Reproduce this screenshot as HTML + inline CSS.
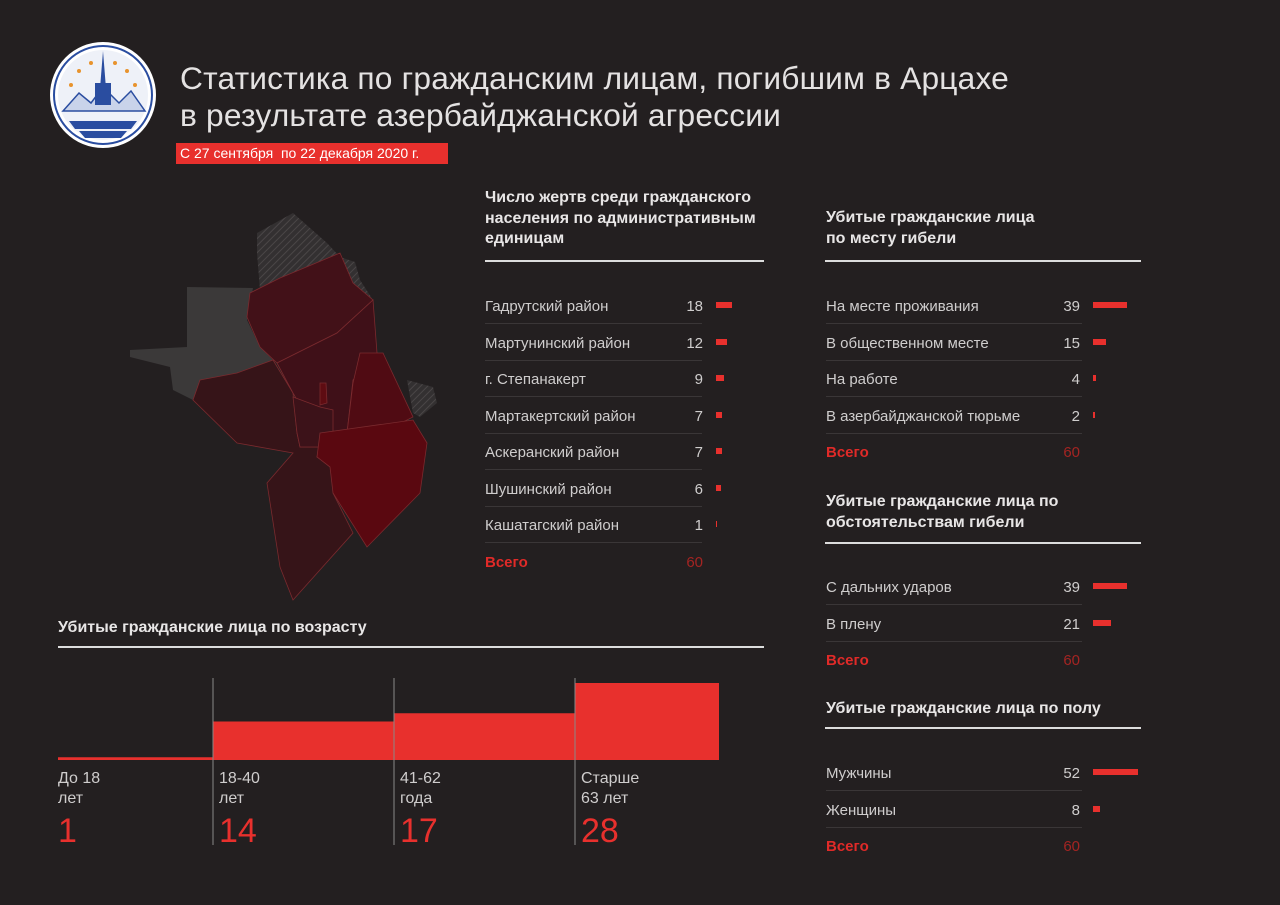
<!DOCTYPE html>
<html><head><meta charset="utf-8"><style>
html,body{margin:0;padding:0;background:#231f20;}
body{width:1280px;height:905px;position:relative;overflow:hidden;font-family:"Liberation Sans",sans-serif;color:#d4d2d2;}
.a{position:absolute;white-space:nowrap;}
.title{left:180px;font-size:31.7px;color:#e4e2e2;letter-spacing:0.2px;}
.hd{font-size:16px;font-weight:bold;color:#e8e6e6;line-height:20.5px;}
.hl{position:absolute;height:2px;background:#dcdcdc;}
.lbl{font-size:15px;color:#cfcdcd;}
.num{font-size:15px;color:#cfcdcd;text-align:right;width:40px;}
.sep{position:absolute;height:1px;background:#3a3637;}
.bar{position:absolute;height:6px;background:#e8302d;}
.tot{font-size:15px;font-weight:bold;color:#e02a28;}
.totn{font-size:15px;color:#a42422;text-align:right;width:40px;}
.agel{font-size:16px;color:#cfcdcd;line-height:20px;}
.agen{font-size:34px;color:#e8302d;}
</style></head><body>
<svg style="position:absolute;left:49px;top:41px" width="108" height="108" viewBox="0 0 108 108">
<circle cx="54" cy="54" r="53" fill="#fff"/>
<circle cx="54" cy="54" r="49" fill="none" stroke="#2a4da0" stroke-width="2"/>
<circle cx="54" cy="54" r="45" fill="#eef1f8"/>
<path d="M14 70 L30 52 L42 62 L54 46 L70 62 L82 50 L96 70 Z" fill="#c9d3ea" stroke="#2a4da0" stroke-width="1.5"/>
<path d="M54 10 L58 60 L50 60 Z" fill="#2a4da0"/>
<rect x="46" y="42" width="16" height="22" fill="#2a4da0"/>
<path d="M20 80 L88 80 L82 88 L26 88 Z M30 90 L78 90 L72 97 L36 97 Z" fill="#2a4da0"/>
<circle cx="30" cy="30" r="2" fill="#e8932d"/><circle cx="78" cy="30" r="2" fill="#e8932d"/><circle cx="22" cy="44" r="2" fill="#e8932d"/><circle cx="86" cy="44" r="2" fill="#e8932d"/><circle cx="42" cy="22" r="2" fill="#e8932d"/><circle cx="66" cy="22" r="2" fill="#e8932d"/>
</svg>
<div class="a title" style="top:60px">Статистика по гражданским лицам, погибшим в Арцахе</div>
<div class="a title" style="top:97px">в результате азербайджанской агрессии</div>
<div class="a" style="left:176px;top:143px;width:272px;height:21px;background:#e8302d;color:#fff;font-size:14px;line-height:21px;padding-left:4px;box-sizing:border-box">С 27 сентября&nbsp; по 22 декабря 2020 г.</div>

<svg style="position:absolute;left:0;top:0" width="460" height="620">
<defs><pattern id="hatch" width="5" height="5" patternUnits="userSpaceOnUse" patternTransform="rotate(45)"><rect width="5" height="5" fill="#333031"/><line x1="0" y1="0" x2="0" y2="5" stroke="#4a4647" stroke-width="2"/></pattern></defs>
<g stroke="#7a2a2e" stroke-width="0.8">
<polygon fill="#3b3939" stroke="none" points="130,350 187,347 187,287 253,288 247,320 260,347 273,360 237,373 200,380 193,400 173,390 170,367 130,357"/>
<polygon fill="url(#hatch)" stroke="none" points="257,233 293,213 327,243 340,257 280,280 260,290 257,253"/>
<polygon fill="url(#hatch)" stroke="none" points="340,257 355,262 360,280 373,300 353,283"/>
<polygon fill="url(#hatch)" stroke="none" points="407,380 433,387 437,403 420,417 413,413"/>
<polygon fill="#361418" points="200,380 237,373 273,360 293,393 297,433 300,447 320,447 317,457 333,467 333,493 353,533 293,600 280,567 267,483 293,453 237,443 193,400"/>
<polygon fill="#421118" points="250,293 280,278 340,253 353,283 373,300 337,333 277,363 260,347 247,317"/>
<polygon fill="#3f1018" points="277,363 337,333 373,300 377,353 353,380 347,433 333,433 320,407 297,400 293,393"/>
<polygon fill="#500b13" points="360,353 383,353 413,417 387,430 347,433 353,383"/>
<polygon fill="#3c1219" points="293,397 320,407 333,410 333,433 320,447 300,447 297,433"/>
<polygon fill="#5e0c12" points="320,383 326,383 327,403 320,405"/>
<polygon fill="#5a0810" points="320,433 413,420 427,443 420,493 367,547 333,493 330,467 317,457"/>
</g>
</svg>

<div class="a hd" style="left:485px;top:188px">Число жертв среди гражданского<br>населения по административным<br>единицам</div>
<div class="hl" style="left:485px;top:260px;width:279px"></div>
<div class="a hd" style="left:826px;top:208px">Убитые гражданские лица<br>по месту гибели</div>
<div class="hl" style="left:825px;top:260px;width:316px"></div>
<div class="a hd" style="left:826px;top:492px">Убитые гражданские лица по<br>обстоятельствам гибели</div>
<div class="hl" style="left:825px;top:542px;width:316px"></div>
<div class="a hd" style="left:826px;top:699px">Убитые гражданские лица по полу</div>
<div class="hl" style="left:825px;top:727px;width:316px"></div>
<div class="a hd" style="left:58px;top:618px">Убитые гражданские лица по возрасту</div>
<div class="hl" style="left:58px;top:646px;width:706px"></div>

<div id="tables"></div>
<svg id="age" style="position:absolute;left:0;top:660px" width="780" height="200"></svg>
<div id="agetext"></div>

<script>
const adminCats=["Гадрутский район","Мартунинский район","г. Степанакерт","Мартакертский район","Аскеранский район","Шушинский район","Кашатагский район"];
const adminVals=[18,12,9,7,7,6,1];
const placeCats=["На месте проживания","В общественном месте","На работе","В азербайджанской тюрьме"];
const placeVals=[39,15,4,2];
const circCats=["С дальних ударов","В плену"];
const circVals=[39,21];
const genderCats=["Мужчины","Женщины"];
const genderVals=[52,8];
const totalLabel="Всего";
const ageCats=[["До 18","лет"],["18-40","лет"],["41-62","года"],["Старше","63 лет"]];
const ageVals=[1,14,17,28];

const T=document.getElementById('tables');
function table(name,cats,vals,x,y0,sepW,numX,barX,scale,total){
  const step=36.5;
  cats.forEach((c,i)=>{
    const y=y0+i*step;
    const l=document.createElement('div');l.className='a lbl';l.style.left=x+'px';l.style.top=(y-7)+'px';l.textContent=c;
    
    
    T.appendChild(l);
    const n=document.createElement('div');n.className='a num';n.style.left=(numX-40)+'px';n.style.top=(y-7)+'px';n.textContent=vals[i];
    
    
    T.appendChild(n);
    const b=document.createElement('div');b.className='bar';b.style.left=barX+'px';b.style.top=(y-3)+'px';b.style.width=Math.max(1,vals[i]*scale)+'px';
    
    
    T.appendChild(b);
    const s=document.createElement('div');s.className='sep';s.style.left=x+'px';s.style.top=(y+18)+'px';s.style.width=sepW+'px';
    
    
    T.appendChild(s);
  });
  if(total){
    const y=y0+cats.length*step;
    const l=document.createElement('div');l.className='a tot';l.style.left=x+'px';l.style.top=(y-7)+'px';l.textContent=totalLabel;
    
    
    T.appendChild(l);
    const n=document.createElement('div');n.className='a totn';n.style.left=(numX-40)+'px';n.style.top=(y-7)+'px';n.textContent=vals.reduce((a,b)=>a+b,0);
    
    
    T.appendChild(n);
  }
}
table('admin',adminCats,adminVals,485,305,217,703,716,0.9,true);
table('place',placeCats,placeVals,826,305,256,1080,1093,0.87,true);
table('circumstance',circCats,circVals,826,586,256,1080,1093,0.87,true);
table('gender',genderCats,genderVals,826,772,256,1080,1093,0.87,true);

const svg=document.getElementById('age');
const NS='http://www.w3.org/2000/svg';
const colX=[58,213,394,575], colR=[213,394,575,719];
const base=100; const yScale=77/28;
function yPos(v){return base-v*yScale;}
ageVals.forEach((v,i)=>{
  const r=document.createElementNS(NS,'rect');
  r.setAttribute('x',colX[i]);r.setAttribute('width',colR[i]-colX[i]);
  const y=yPos(v);r.setAttribute('y',y);r.setAttribute('height',Math.max(2,base-y));
  r.setAttribute('fill','#e8302d');
  
  
  svg.appendChild(r);
  if(i>0){
    const l=document.createElementNS(NS,'line');
    l.setAttribute('x1',colX[i]);l.setAttribute('x2',colX[i]);l.setAttribute('y1',18);l.setAttribute('y2',185);
    l.setAttribute('stroke','#8a8888');l.setAttribute('stroke-width','1');
    
    
    svg.appendChild(l);
  }
});
const AT=document.getElementById('agetext');
ageCats.forEach((c,i)=>{
  const x=colX[i]+(i?6:0);
  const d=document.createElement('div');d.className='a agel';d.style.left=x+'px';d.style.top='769px';d.innerHTML=c[0]+'<br>'+c[1];
  
  
  AT.appendChild(d);
  const n=document.createElement('div');n.className='a agen';n.style.left=x+'px';n.style.top='812px';n.textContent=ageVals[i];
  
  
  AT.appendChild(n);
});
</script>
</body></html>
